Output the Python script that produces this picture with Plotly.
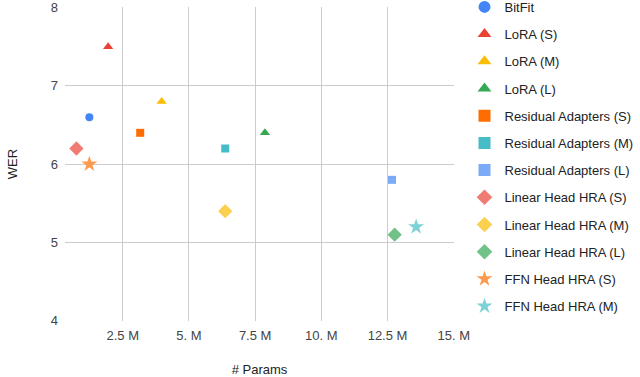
import plotly.graph_objects as go

names = ["BitFit", "LoRA (S)", "LoRA (M)", "LoRA (L)",
         "Residual Adapters (S)", "Residual Adapters (M)", "Residual Adapters (L)",
         "Linear Head HRA (S)", "Linear Head HRA (M)", "Linear Head HRA (L)",
         "FFN Head HRA (S)", "FFN Head HRA (M)"]
params_m = [1.24, 1.95, 3.97, 7.87, 3.16, 6.37, 12.67, 0.75, 6.37, 12.77, 1.24, 13.58]
wer = [6.6, 7.5, 6.8, 6.4, 6.4, 6.2, 5.8, 6.2, 5.4, 5.1, 6.0, 5.2]
colors = ["#4285F4", "#EA4335", "#FBBC04", "#34A853", "#FF6D01", "#46BDC6",
          "#7BAAF7", "#F07B72", "#FCD04F", "#71C287", "#FF994D", "#7ED1D7"]
symbols = ["circle", "triangle-up", "triangle-up", "triangle-up", "square", "square",
           "square", "diamond", "diamond", "diamond", "star", "star"]
sizes = [8, 9, 9, 9, 8, 8, 8, 11, 11, 11, 12, 12]

x_ticks = [2.5, 5, 7.5, 10, 12.5, 15]
x_tick_labels = ["2.5 M", "5. M", "7.5 M", "10. M", "12.5 M", "15. M"]
y_ticks = [4, 5, 6, 7, 8]

fig = go.Figure()
for i, n in enumerate(names):
    fig.add_trace(go.Scatter(
        x=[params_m[i]], y=[wer[i]], mode="markers", name=n,
        legendgroup=n,
        marker=dict(color=colors[i], symbol=symbols[i], size=sizes[i], line=dict(width=0)),
    ))

font = "Liberation Sans, Arial, sans-serif"
fig.update_layout(
    width=640, height=377,
    margin=dict(l=65, r=186, t=7, b=56, autoexpand=False),
    paper_bgcolor="white", plot_bgcolor="white",
    font=dict(family=font, size=13, color="#444"),
    showlegend=True,
    legend=dict(x=1.027, xanchor="left", y=1.048, yanchor="top",
                font=dict(size=13, color="#222"), tracegroupgap=7.3,
                maxheight=1, itemsizing="constant", bgcolor="rgba(0,0,0,0)"),
    xaxis=dict(range=[0.32, 15.01], tickvals=x_ticks, ticktext=x_tick_labels,
               showgrid=True, gridcolor="#cccccc", gridwidth=1, zeroline=False,
               showline=False, ticks="", tickfont=dict(size=13, color="#444"),
               automargin=False, ticklabelstandoff=5,
               title=dict(text="# Params", font=dict(size=13, color="#222"), standoff=23)),
    yaxis=dict(range=[3.998, 8.006], tickvals=y_ticks, showgrid=True, gridcolor="#cccccc",
               gridwidth=1, zeroline=False, showline=False, ticks="",
               tickfont=dict(size=13, color="#444"), automargin=False,
               ticklabelstandoff=6, ticklabeloverflow="allow",
               title=dict(text="WER", font=dict(size=13, color="#222"), standoff=30)),
)
fig.write_html("out.html", config={"displayModeBar": False},
               post_script="document.body.style.margin='0';document.body.style.padding='0';")
